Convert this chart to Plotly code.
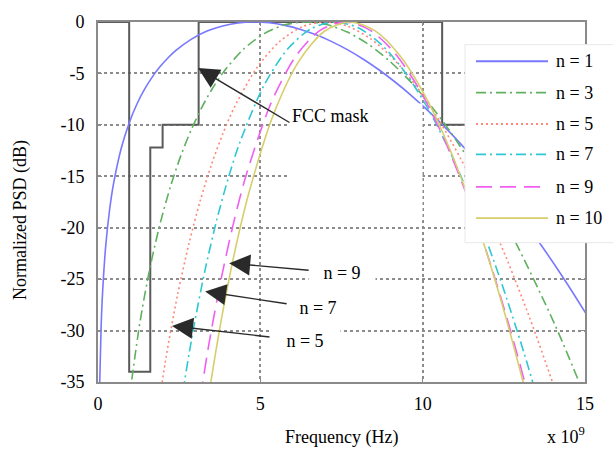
import plotly.graph_objects as go

# ---------------- data ----------------
orders = ["n = 1", "n = 3", "n = 5", "n = 7", "n = 9", "n = 10"]

f_n1 = [0.048, 0.096, 0.144, 0.24, 0.36, 0.48, 0.72, 0.96, 1.2, 1.44, 1.68, 1.92, 2.16, 2.4, 2.88, 3.36,
        3.84, 4.32, 4.8, 5.28, 5.76, 6.24, 6.72, 7.2, 7.68, 8.16, 8.64, 9.12, 9.6, 10.56, 11.52, 12.48,
        13.44, 14.4, 15.36]
db_n1 = [-35.66, -29.64, -26.12, -21.69, -18.18, -15.70, -12.23, -9.81, -7.97, -6.51, -5.31, -4.31, -3.47,
         -2.76, -1.66, -0.88, -0.38, -0.09, 0.0, -0.08, -0.33, -0.72, -1.25, -1.91, -2.69, -3.60, -4.62,
         -5.76, -7.01, -9.83, -13.07, -16.72, -20.76, -25.20, -30.03]

f_n3 = [0.96, 1.28, 1.6, 1.92, 2.24, 2.56, 2.88, 3.2, 3.52, 3.84, 4.48, 5.12, 5.76, 6.4, 7.04, 7.68, 8.32,
        8.96, 9.6, 10.24, 10.88, 11.52, 12.16, 12.8, 14.08, 15.36]
db_n3 = [-36.70, -29.43, -23.91, -19.52, -15.92, -12.93, -10.42, -8.29, -6.49, -4.97, -2.65, -1.13, -0.27,
         0.0, -0.25, -0.98, -2.15, -3.74, -5.72, -8.08, -10.80, -13.87, -17.28, -21.02, -29.48, -39.20]

f_n5 = [1.75, 2.1, 2.45, 2.8, 3.15, 3.5, 3.85, 4.2, 4.9, 5.6, 6.3, 7.0, 7.7, 8.4, 9.1, 9.8, 10.5, 11.2,
        11.9, 12.6, 13.3, 14.0, 14.7]
db_n5 = [-39.85, -32.53, -26.54, -21.56, -17.36, -13.82, -10.82, -8.29, -4.42, -1.88, -0.45, 0.0, -0.42,
         -1.64, -3.59, -6.24, -9.54, -13.47, -18.00, -23.12, -28.80, -35.04, -41.8]

f_n7 = [2.19, 2.555, 2.92, 3.285, 3.65, 4.015, 4.38, 5.11, 5.84, 6.57, 7.3, 8.03, 8.76, 9.49, 10.22,
        10.95, 11.68, 12.41, 13.14, 13.87]
db_n7 = [-45.5, -37.16, -30.18, -24.30, -19.34, -15.15, -11.61, -6.18, -2.63, -0.63, 0.0, -0.59, -2.29,
         -5.03, -8.73, -13.35, -18.85, -25.19, -32.36, -40.32]

f_n9 = [3.04, 3.42, 3.8, 4.18, 4.56, 5.32, 6.08, 6.84, 7.6, 8.36, 9.12, 9.88, 10.64, 11.4, 12.16, 12.92, 13.68]
db_n9 = [-38.80, -31.25, -24.87, -19.48, -14.92, -7.95, -3.38, -0.81, 0.0, -0.76, -2.94, -6.46, -11.22,
         -17.16, -24.24, -32.39, -41.61]

f_n10 = [3.1, 3.49, 3.875, 4.26, 4.65, 5.425, 6.2, 6.975, 7.75, 8.525, 9.3, 10.075, 10.85, 11.625, 12.4,
         13.175, 13.6]
db_n10 = [-43.11, -34.72, -27.63, -21.64, -16.58, -8.83, -3.75, -0.90, 0.0, -0.84, -3.27, -7.18, -12.47,
          -19.07, -26.93, -35.99, -41.5]

mask_f = [0, 0.96, 0.96, 1.61, 1.61, 1.99, 1.99, 3.1, 3.1, 10.6, 10.6, 15]
mask_db = [0, 0, -34, -34, -12.2, -12.2, -10, -10, 0, 0, -10, -10]

x_ticks = [0, 5, 10, 15]
x_ticktext = ["0", "5", "10", "15"]
y_ticks = [0, -5, -10, -15, -20, -25, -30, -35]
y_ticktext = ["0", "-5", "-10", "-15", "-20", "-25", "-30", "-35"]

# ---------------- styles ----------------
colors = ["#7878ff", "#5fb05f", "#ff8878", "#2ec8d2", "#f060f0", "#d6ce6c"]
dashes = ["solid", "10px,4px,2px,4px", "2px,3px", "10px,4px,2px,4px", "16px,8px", "solid"]
series = [(f_n1, db_n1), (f_n3, db_n3), (f_n5, db_n5), (f_n7, db_n7), (f_n9, db_n9), (f_n10, db_n10)]

SERIF = "Liberation Serif"
TXT = dict(family=SERIF, size=18, color="black")

fig = go.Figure()

fig.add_trace(go.Scatter(x=mask_f, y=mask_db, mode="lines", line=dict(color="#5a5a5a", width=2),
                         showlegend=False, hoverinfo="skip"))

for name, (fx, fy), c, d in zip(orders, series, colors, dashes):
    fig.add_trace(go.Scatter(x=fx, y=fy, mode="lines", name=name,
                             line=dict(color=c, width=1.6, dash=d, shape="spline", smoothing=0.8),
                             showlegend=False))

# ---------------- manual legend (long line samples like the reference) ----------------
shapes = [dict(type="rect", xref="paper", yref="paper", x0=0.7536, x1=1.06, y0=0.387, y1=0.937,
               fillcolor="white", line=dict(color="#e8e8e8", width=1), layer="above")]
annotations = []
row_y = [0.891, 0.8038, 0.7166, 0.6322, 0.5422, 0.4550]
for name, c, d, yy in zip(orders, colors, dashes, row_y):
    shapes.append(dict(type="line", xref="paper", yref="paper", x0=0.7762, x1=0.924, y0=yy, y1=yy,
                       line=dict(color=c, width=1.8, dash=d), layer="above"))
    annotations.append(dict(xref="paper", yref="paper", x=0.936, y=yy, text=name, showarrow=False,
                            xanchor="left", yanchor="middle", font=TXT))

# ---------------- arrow labels ----------------
ARROW = dict(showarrow=True, arrowhead=2, arrowsize=3, arrowwidth=1.4, arrowcolor="#2a2a2a")
annotations.append(dict(x=3.08, y=-4.48, xref="x", yref="y", ax=158, ay=94, text="FCC mask",
                        width=128, height=112, align="left", valign="top", bgcolor="white", borderpad=2,
                        font=TXT, **ARROW))
annotations.append(dict(x=4.04, y=-23.45, xref="x", yref="y", ax=113, ay=10, text="n = 9",
                        width=64, bgcolor="white", font=TXT, **ARROW))
annotations.append(dict(x=3.30, y=-26.2, xref="x", yref="y", ax=113, ay=17, text="n = 7",
                        width=60, bgcolor="white", font=TXT, **ARROW))
annotations.append(dict(x=2.28, y=-29.55, xref="x", yref="y", ax=133, ay=15, text="n = 5",
                        width=68, bgcolor="white", font=TXT, **ARROW))

# ---------------- axis titles ----------------
annotations.append(dict(xref="paper", yref="paper", x=0.5, y=-0.155, text="Frequency (Hz)", showarrow=False,
                        xanchor="center", yanchor="middle", font=TXT))
annotations.append(dict(xref="paper", yref="paper", x=0.962, y=-0.15, text="x 10<sup>9</sup>", showarrow=False,
                        xanchor="center", yanchor="middle", font=TXT))
annotations.append(dict(xref="paper", yref="paper", x=-0.16, y=0.45, text="Normalized PSD (dB)",
                        showarrow=False, textangle=-90, xanchor="center", yanchor="middle", font=TXT))

axis_common = dict(showline=True, mirror="ticks", linecolor="#8a8a8a", linewidth=2,
                   ticks="inside", ticklen=4, tickcolor="#8a8a8a", tickwidth=1,
                   showgrid=True, gridcolor="#8c8c8c", gridwidth=1.5, griddash="dot",
                   zeroline=False, tickfont=TXT)

fig.update_xaxes(range=[0, 15], tickvals=x_ticks, ticktext=x_ticktext, ticklabelstandoff=4, **axis_common)
fig.update_yaxes(range=[-35, 0], tickvals=y_ticks, ticktext=y_ticktext, ticklabelstandoff=8, **axis_common)

fig.update_layout(width=613, height=456, margin=dict(l=98, r=28, t=15, b=74),
                  font=dict(family=SERIF),
                  plot_bgcolor="white", paper_bgcolor="white", showlegend=False,
                  shapes=shapes, annotations=annotations)

fig.write_html("out.html")
